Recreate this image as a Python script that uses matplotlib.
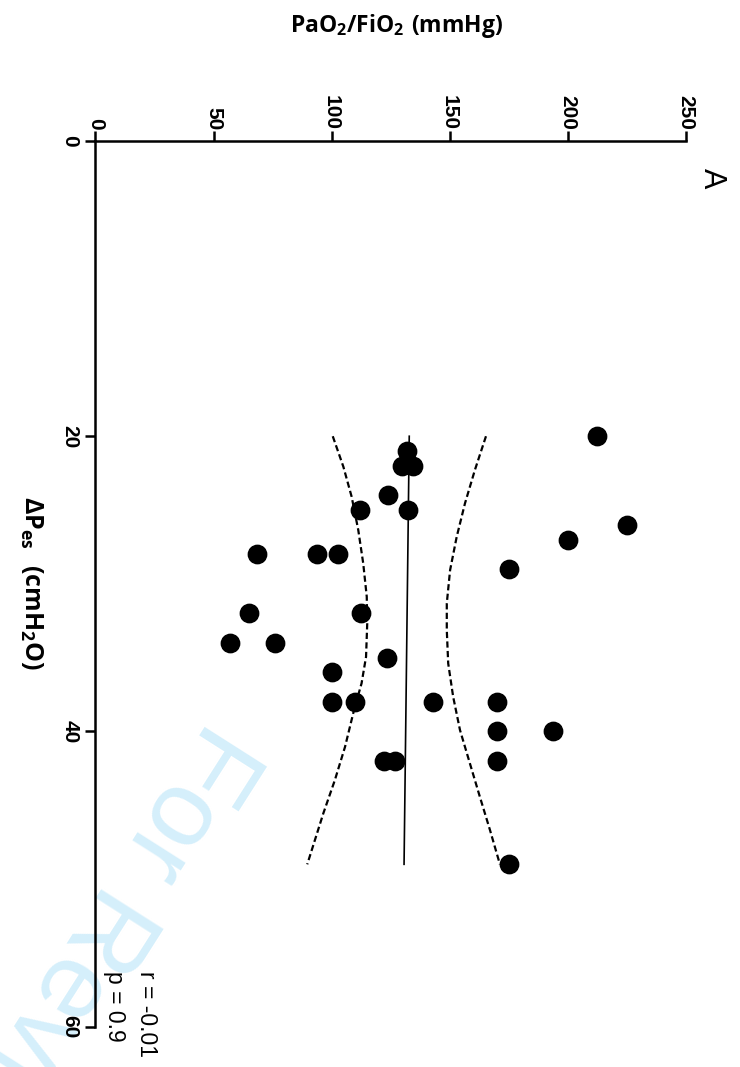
import matplotlib
matplotlib.use("Agg")
import matplotlib.pyplot as plt

# ---------------- data ----------------
pao2_fio2 = [212.5, 132.1, 129.7, 134.6, 124.0, 112.0, 132.5, 225.0, 200.0,
             68.5, 93.7, 102.8, 175.0, 65.0, 112.5, 57.0, 76.0, 123.3, 100.0,
             100.0, 109.9, 142.8, 169.9, 169.9, 193.9, 122.3, 126.9, 169.9, 175.0]
delta_pes = [20, 21, 22, 22, 24, 25, 25, 26, 27,
             28, 28, 28, 29, 32, 32, 34, 34, 35, 36,
             38, 38, 38, 38, 40, 40, 42, 42, 42, 49]

fit_pes = [20, 49]
fit_pao2 = [132.9, 130.7]

ci_low_pes = [20, 22.07, 24.10, 26.35, 28.61, 30.87, 32.68, 34.94, 36.74,
              38.55, 41.04, 43.29, 45.55, 49]
ci_low = [100.5, 105.0, 108.5, 111.3, 113.4, 114.9, 115.1, 114.6, 112.7,
          109.5, 105.7, 101.4, 96.5, 89.7]
ci_high_pes = [20, 22.29, 24.55, 26.81, 29.07, 31.32, 33.13, 35.39, 37.65,
               39.91, 42.17, 44.42, 46.68, 49]
ci_high = [165.4, 160.7, 156.5, 153.0, 150.2, 148.8, 148.8, 149.4, 151.5,
           154.4, 158.6, 162.8, 167.1, 171.3]

x_ticks = [0, 50, 100, 150, 200, 250]
y_ticks = [0, 20, 40, 60]
stats_lines = ["r = -0.01", "p = 0.9"]

plt.rcParams['mathtext.fontset'] = 'custom'
plt.rcParams['mathtext.rm'] = 'Open Sans'
plt.rcParams['mathtext.bf'] = 'Open Sans:bold'

W, H = 740, 1067
fig = plt.figure(figsize=(W / 100, H / 100), dpi=100)

def fx(px):
    return px / W

def fy(py):
    return 1 - py / H

# watermark behind everything
fig.text(fx(209), fy(718), "For Review Only", rotation=-122.5, rotation_mode='anchor',
         ha='left', va='baseline', fontsize=78, family='Liberation Sans',
         color='#d5effb', zorder=-5)

ax = fig.add_axes([fx(95.5), fy(1026.7), fx(685.7) - fx(95.5), fy(141) - fy(1026.7)])
ax.set_facecolor('none')
ax.set_xlim(0, 250)
ax.set_ylim(60, 0)
ax.xaxis.tick_top()
for s in ['right', 'bottom']:
    ax.spines[s].set_visible(False)
for s in ['top', 'left']:
    ax.spines[s].set_linewidth(1.8)

ax.set_xticks(x_ticks)
ax.set_yticks(y_ticks)
ax.set_xticklabels([str(t) for t in x_ticks], rotation=270, fontsize=15,
                   fontweight='bold', family='Liberation Sans')
ax.set_yticklabels([str(t) for t in y_ticks], rotation=270, fontsize=15,
                   fontweight='bold', family='Liberation Sans', va='center')
ax.tick_params(axis='x', direction='out', length=7.5, width=1.8, pad=0.5)
ax.tick_params(axis='y', direction='out', length=7.5, width=1.8, pad=4)

ax.scatter(pao2_fio2, delta_pes, s=175, color='black', zorder=3, clip_on=False)
ax.plot(fit_pao2, fit_pes, color='black', lw=1.2)
ax.plot(ci_low, ci_low_pes, color='black', lw=1.6, ls=(0, (2.8, 1.5)))
ax.plot(ci_high, ci_high_pes, color='black', lw=1.6, ls=(0, (2.8, 1.5)))

# axis titles
fig.text(fx(397), fy(32), r'$\mathbf{PaO_2/FiO_2\ (mmHg)}$', ha='center', va='baseline',
         fontsize=16.5)
fig.text(fx(31), fy(583), r'$\mathbf{\Delta P_{es}\ \ (cmH_2O)}$', ha='center', va='center',
         rotation=270, fontsize=18)

# panel label
fig.text(fx(712), fy(178), "A", rotation=270, ha='center', va='center',
         fontsize=22, family='Liberation Sans')

# statistics
fig.text(fx(140), fy(971), stats_lines[0], rotation=270, rotation_mode='anchor',
         ha='left', va='baseline', fontsize=16.5, family='Liberation Sans')
fig.text(fx(108), fy(971), stats_lines[1], rotation=270, rotation_mode='anchor',
         ha='left', va='baseline', fontsize=16.5, family='Liberation Sans')

fig.savefig("out.png", dpi=100)
